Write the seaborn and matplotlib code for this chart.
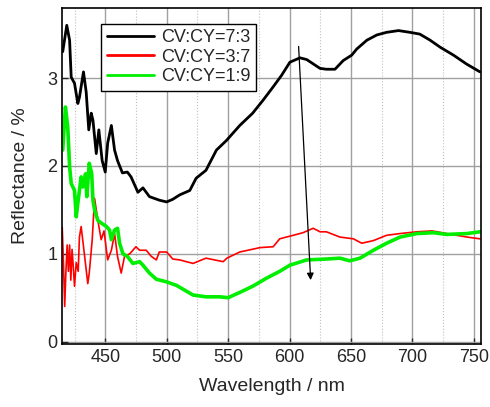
import numpy as np
import pandas as pd
import matplotlib
matplotlib.use("Agg")
import matplotlib.pyplot as plt
import seaborn as sns
from matplotlib.ticker import MultipleLocator

# ---- data ----
wl_black = [415.4, 418.7, 421, 422.3, 425, 427.7, 429, 432.3, 434.5, 436.6, 438.6, 440,
            442.7, 444.8, 447.5, 450, 452, 455, 457.6, 460, 464, 468, 471, 476.6, 480.7,
            486, 494, 500, 505, 510.6, 518.8, 524, 532, 540.5, 548.7, 559.5, 570, 578.6,
            586.7, 593.5, 600.3, 608.5, 614, 624.8, 630, 637, 643.8, 650.6, 654.7, 662.9,
            671, 679, 688.7, 698, 706, 714.5, 722.7, 733.5, 744, 755]
r_black = [3.30, 3.60, 3.43, 3.01, 2.94, 2.71, 2.78, 3.07, 2.84, 2.41, 2.60, 2.52,
           2.14, 2.41, 2.06, 1.93, 2.26, 2.46, 2.18, 2.06, 1.92, 1.93, 1.875, 1.70, 1.75,
           1.65, 1.61, 1.59, 1.62, 1.67, 1.72, 1.86, 1.95, 2.18, 2.29, 2.46, 2.60, 2.75,
           2.90, 3.03, 3.18, 3.23, 3.21, 3.11, 3.10, 3.10, 3.20, 3.26, 3.33, 3.43,
           3.49, 3.52, 3.54, 3.52, 3.50, 3.43, 3.35, 3.26, 3.16, 3.07]

wl_red = [415, 416, 417, 418, 419, 420, 421, 422, 423, 424, 425, 426.4, 428, 429, 430.4,
          433, 435.8, 437, 439.4, 441.3, 444, 446.7, 449, 452, 455, 457.6, 460, 463,
          465.7, 470, 475, 478, 483.4, 487.5, 491.6, 494, 500, 505, 510.6, 521.5, 532,
          546, 549, 559.5, 576, 586.7, 592, 603, 611, 619.3, 624.8, 630, 641, 652,
          658.8, 668.3, 679, 690, 703.7, 716, 728, 744.5, 755]
r_red = [1.30, 0.90, 0.40, 0.80, 1.10, 0.80, 1.10, 0.70, 1.05, 0.85, 0.63, 0.90, 0.80, 1.19, 1.31,
         1.00, 0.66, 0.78, 1.16, 1.63, 1.38, 1.16, 1.26, 0.93, 1.04, 1.23, 0.97, 0.78,
         0.97, 1.00, 1.08, 1.04, 1.04, 0.97, 0.93, 1.02, 1.02, 0.94, 0.93, 0.89, 0.95,
         0.91, 0.95, 1.02, 1.07, 1.08, 1.17, 1.21, 1.24, 1.29, 1.25, 1.25, 1.19, 1.17,
         1.12, 1.15, 1.21, 1.23, 1.25, 1.26, 1.23, 1.19, 1.17]

wl_green = [415.4, 417.6, 419.5, 421, 422.3, 425, 426.4, 428, 430.4, 431.8, 434, 435, 437,
            439, 440, 441.3, 444, 446.7, 451, 453.5, 455, 457.6, 460, 461.7, 464.4, 468,
            472.5, 478, 480.7, 486, 491.6, 500, 508, 521.5, 532, 543, 550, 559.5, 570,
            581, 592, 600.3, 614, 630, 641, 649, 657.4, 668.3, 679, 690, 703.7, 717,
            728, 744.5, 755]
r_green = [2.18, 2.67, 2.44, 1.99, 1.80, 1.72, 1.42, 1.61, 1.875, 1.76, 1.91, 1.65, 2.03,
           1.91, 1.61, 1.50, 1.38, 1.35, 1.31, 1.27, 1.16, 1.27, 1.29, 1.12, 1.00, 0.97,
           0.89, 0.91, 0.87, 0.78, 0.71, 0.68, 0.64, 0.53, 0.51, 0.51, 0.50, 0.56, 0.63,
           0.72, 0.80, 0.87, 0.93, 0.94, 0.95, 0.92, 0.95, 1.04, 1.12, 1.19, 1.23, 1.24,
           1.22, 1.23, 1.25]

labels = ["CV:CY=7:3", "CV:CY=3:7", "CV:CY=1:9"]
colors = ["#000000", "#ff0000", "#00ee00"]

df = pd.concat([
    pd.DataFrame({"wl": wl_black, "R": r_black, "s": labels[0]}),
    pd.DataFrame({"wl": wl_red, "R": r_red, "s": labels[1]}),
    pd.DataFrame({"wl": wl_green, "R": r_green, "s": labels[2]}),
])

sns.set_theme(style="ticks")
plt.rcParams["font.family"] = ["Liberation Sans", "DejaVu Sans"]

fig, ax = plt.subplots(figsize=(4.9, 4.07), dpi=100)
fig.subplots_adjust(left=0.127, right=0.982, top=0.981, bottom=0.155)

widths = {labels[0]: 2.0, labels[1]: 1.2, labels[2]: 2.6}
for lab, col in zip(labels, colors):
    sub = df[df["s"] == lab]
    sns.lineplot(data=sub, x="wl", y="R", ax=ax, color=col, lw=widths[lab],
                 label=lab, sort=False, estimator=None)

ax.set_xlim(415, 756)
ax.set_ylim(-0.026, 3.80)
ax.xaxis.set_major_locator(MultipleLocator(50))
ax.xaxis.set_minor_locator(MultipleLocator(25))
ax.yaxis.set_major_locator(MultipleLocator(1))
ax.grid(which="major", color="#a0a0a0", lw=1.0, ls="-")
ax.grid(which="minor", axis="x", color="#c0c0c0", lw=0.8, ls=":")
ax.set_axisbelow(True)
ax.tick_params(which="both", direction="in", labelsize=13, length=4, width=1)
ax.tick_params(which="minor", length=0)
for sp in ax.spines.values():
    sp.set_color("black")
    sp.set_linewidth(1.2)

ax.set_xlabel("Wavelength / nm", fontsize=14, labelpad=9)
ax.set_ylabel("Reflectance / %", fontsize=14, labelpad=13)

ax.annotate("", xy=(617.2, 0.70), xytext=(607.4, 3.36),
            arrowprops=dict(arrowstyle="-|>", color="black", lw=0.9,
                            mutation_scale=10, shrinkA=0, shrinkB=0))

leg = ax.legend(loc="upper left", bbox_to_anchor=(0.093, 0.953), fontsize=13,
                frameon=True, fancybox=False, borderpad=0.3, labelspacing=0.15,
                handlelength=2.6, handletextpad=0.4, borderaxespad=0)
leg.get_frame().set_edgecolor("black")
leg.get_frame().set_linewidth(1.0)
leg.get_frame().set_alpha(1)
for line in leg.get_lines():
    line.set_linewidth(2.0)

fig.savefig("out.png", dpi=100)
